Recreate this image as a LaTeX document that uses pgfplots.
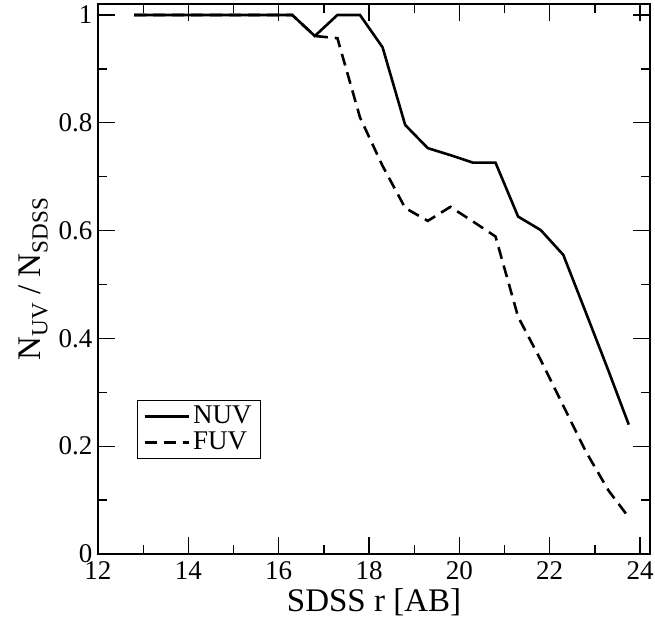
\documentclass[border=0pt]{standalone}
\usepackage{fontspec}
\setmainfont{Liberation Serif}
\usepackage{pgfplots}
\pgfplotsset{compat=1.18}
\usetikzlibrary{calc}
\begin{document}
\begin{tikzpicture}
\begin{axis}[
  name=ax,
  scale only axis,
  width=552pt, height=550pt,
  xmin=12, xmax=24.22, ymin=0, ymax=1.0204,
  xtick={12,14,...,24}, minor xtick={13,15,...,23},
  ytick={0,0.2,0.4,0.6,0.8,1}, minor ytick={0.1,0.3,0.5,0.7,0.9},
  yticklabels={0,0.2,0.4,0.6,0.8,1},
  tick align=inside,
  major tick length=17pt, minor tick length=9pt,
  every tick/.style={line width=1.3pt, black},
  axis line style={line width=1.8pt},
  /pgf/number format/assume math mode=true,
  ticklabel style={font=\fontsize{27}{30}\selectfont},
  xticklabel style={yshift=-4pt},
  yticklabel style={xshift=-2pt},
  xlabel={SDSS r [AB]},
  ylabel={N$_{\mathrm{UV}}$ / N$_{\mathrm{SDSS}}$},
  label style={font=\fontsize{33}{36}\selectfont},
  xlabel style={yshift=-2pt},
  ylabel style={yshift=4pt},
  legend style={at={(axis cs:12.86,0.286)}, anchor=north west,
    font=\fontsize{27}{30}\selectfont, draw=black, line width=1.2pt,
    inner xsep=6pt, inner ysep=3pt, row sep=0pt,
    nodes={text height=17pt, text depth=3pt, inner sep=3pt}},
  legend cell align=left,
  legend image code/.code={\path (0pt,0pt) -- (44pt,0pt);\draw[#1, line width=2.5pt] (0pt,0pt) -- (31pt,0pt);},
]
\addplot[black, line width=2.6pt] coordinates {
(12.8,1) (13.3,1) (13.8,1) (14.3,1) (14.8,1) (15.3,1) (15.8,1) (16.3,1)
(16.8,0.961) (17.3,1) (17.8,1) (18.3,0.94) (18.8,0.796) (19.3,0.753)
(19.8,0.740) (20.3,0.726) (20.8,0.726) (21.3,0.626) (21.8,0.601)
(22.3,0.555) (22.8,0.448) (23.3,0.340) (23.75,0.240)
};
\addlegendentry{NUV}
\addplot[black, line width=2.6pt, dash pattern=on 12pt off 7pt] coordinates {
(12.8,1) (13.3,1) (13.8,1) (14.3,1) (14.8,1) (15.3,1) (15.8,1) (16.3,1)
(16.8,0.961) (17.3,0.957) (17.8,0.81) (18.3,0.72) (18.8,0.642) (19.3,0.618)
(19.8,0.644) (20.3,0.617) (20.8,0.589) (21.3,0.44) (21.8,0.36)
(22.3,0.275) (22.8,0.19) (23.3,0.118) (23.75,0.068)
};
\addlegendentry{FUV}
\end{axis}
\pgfresetboundingbox
\path ($(ax.south west)+(-98pt,-70pt)$) rectangle ($(ax.north east)+(5pt,4pt)$);
\end{tikzpicture}
\end{document}
